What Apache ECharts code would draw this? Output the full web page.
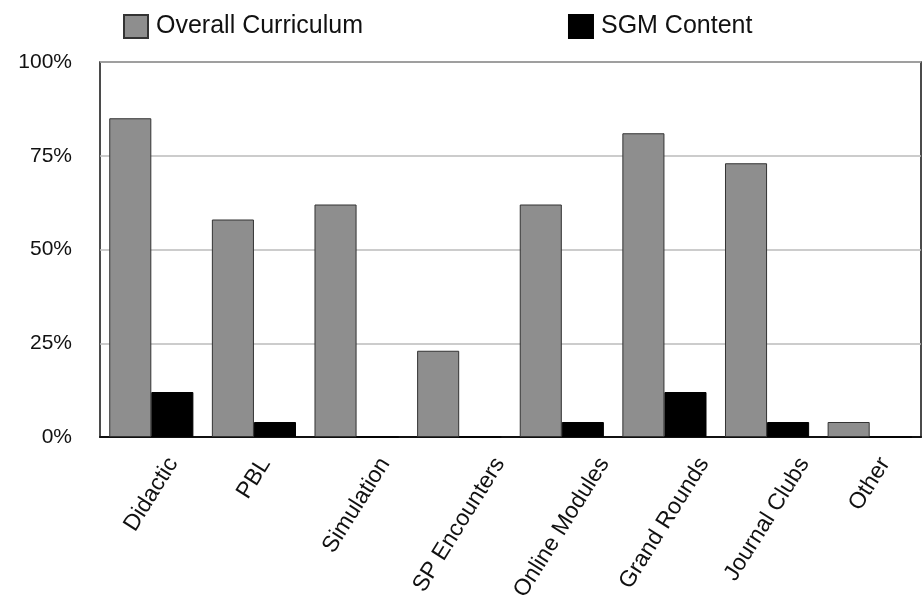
<!DOCTYPE html>
<html><head><meta charset="utf-8">
<script src="https://cdn.jsdelivr.net/npm/echarts@6/dist/echarts.min.js"></script>
<style>html,body{margin:0;padding:0;background:#fff}#c{width:922px;height:598px}</style>
</head><body><div id="c"></div>
<script>
const categories = ["Didactic","PBL","Simulation","SP Encounters","Online Modules","Grand Rounds","Journal Clubs","Other"];
const overallCurriculum = [85,58,62,23,62,81,73,4];
const sgmContent = [12,4,0,0,4,12,4,0];
const yTicks = [0,25,50,75,100];

const chart = echarts.init(document.getElementById('c'));
const font = '"Liberation Sans", Arial, sans-serif';
const labelSize = 23;
const labelAngle = 58;
chart.setOption({
  animation:false,
  backgroundColor:'#fff',
  legend:{
    left:118, top:9, itemWidth:24, itemHeight:23, itemGap:205,
    textStyle:{fontFamily:font,fontSize:25,color:'#111',padding:[0,0,0,3]},
    icon:'rect',
    data:['Overall Curriculum','SGM Content']
  },
  grid:{left:100,right:1,top:62,bottom:161,show:true,borderColor:'#111',borderWidth:1.5,backgroundColor:'transparent'},
  xAxis:{
    type:'category', data:categories,
    axisLine:{show:true,lineStyle:{color:'#111',width:2}},
    axisTick:{show:false},
    axisLabel:{show:false}
  },
  yAxis:{
    type:'value', min:0, max:100, interval:25,
    axisLine:{show:false}, axisTick:{show:false},
    splitLine:{lineStyle:{color:'#bbb',width:1.5}},
    axisLabel:{margin:28,fontFamily:font,fontSize:21,color:'#111',formatter:v=>yTicks.includes(v)?v+'%':''}
  },
  series:[
    {name:'Overall Curriculum',type:'bar',data:overallCurriculum,barGap:'0%',barCategoryGap:'18%',
     itemStyle:{color:'#8e8e8e',borderColor:'#333',borderWidth:1}},
    {name:'SGM Content',type:'bar',data:sgmContent,
     itemStyle:{color:'#000',borderColor:'#000',borderWidth:1}}
  ]
});

// Category labels: rotated, centred on the category, tops aligned just under the axis
const ctx = document.createElement('canvas').getContext('2d');
ctx.font = labelSize + 'px ' + font;
const th = labelAngle * Math.PI / 180;
const axisY = chart.convertToPixel({yAxisIndex:0}, 0);
const labelTop = axisY + 16;
const elements = categories.map(c => {
  const x = chart.convertToPixel({xAxisIndex:0}, c);
  const w = ctx.measureText(c).width;
  const h = labelSize * 1.1;
  const half = (w/2)*Math.sin(th) + (h/2)*Math.cos(th);
  return {
    type:'text', x:x, y:labelTop + half, rotation:th, silent:true,
    style:{text:c, fontFamily:font, fontSize:labelSize, fill:'#111', align:'center', verticalAlign:'middle'}
  };
});
chart.setOption({graphic:{elements:elements}});
</script></body></html>
